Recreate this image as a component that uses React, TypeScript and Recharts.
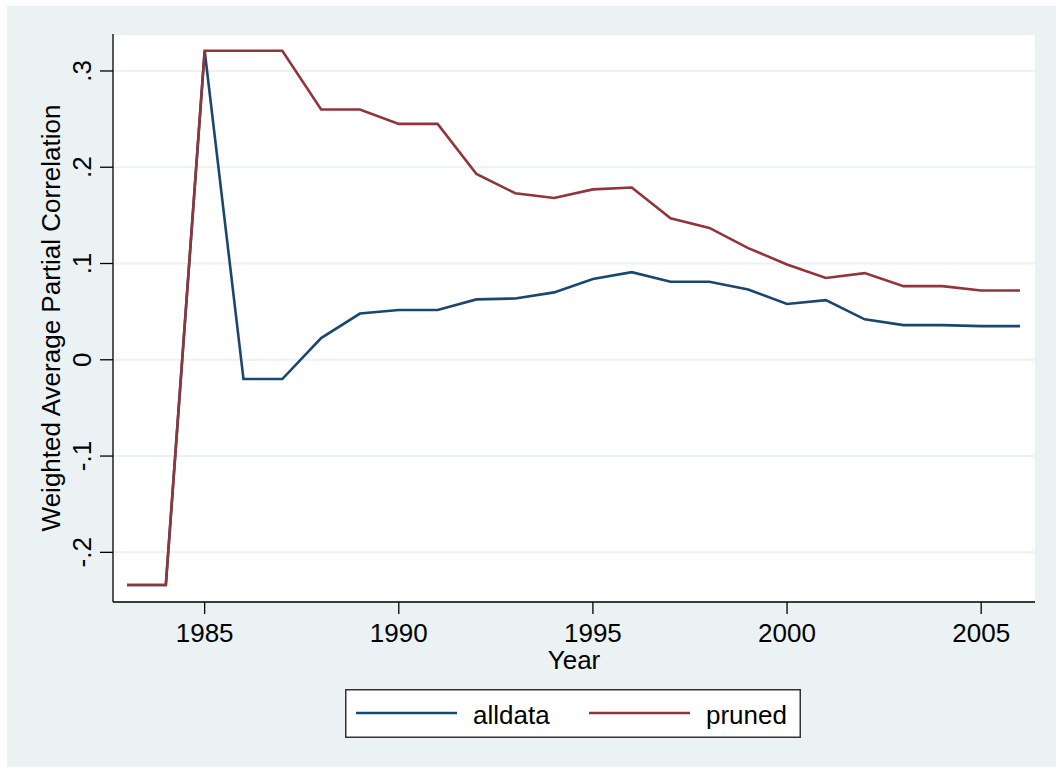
import React from "react";
import { LineChart, Line, XAxis, YAxis, CartesianGrid, Legend, Label } from "recharts";

const years = [
  1983, 1984, 1985, 1986, 1987, 1988, 1989, 1990, 1991, 1992, 1993, 1994,
  1995, 1996, 1997, 1998, 1999, 2000, 2001, 2002, 2003, 2004, 2005, 2006,
];
const alldata = [
  -0.234, -0.234, 0.321, -0.02, -0.02, 0.0225, 0.048, 0.0517, 0.0517, 0.0627,
  0.0637, 0.07, 0.084, 0.091, 0.081, 0.081, 0.073, 0.058, 0.062, 0.042, 0.036,
  0.036, 0.035, 0.035,
];
const pruned = [
  -0.234, -0.234, 0.321, 0.321, 0.321, 0.26, 0.26, 0.245, 0.245, 0.193, 0.173,
  0.168, 0.177, 0.179, 0.147, 0.137, 0.116, 0.099, 0.085, 0.09, 0.0765, 0.0765,
  0.072, 0.072,
];
const xTicks = [1985, 1990, 1995, 2000, 2005];
const yTicks = [-0.2, -0.1, 0, 0.1, 0.2, 0.3];

const NAVY = "#1a476f";
const MAROON = "#90353b";
const BG = "#eaf2f3";
const FONT = "'Liberation Sans', Arial, sans-serif";
const FS = 26;

const data = years.map((year, i) => ({ year, alldata: alldata[i], pruned: pruned[i] }));

const fmtY = (v: number) => {
  if (Math.abs(v) < 1e-9) return "0";
  return v.toFixed(1).replace("0.", ".");
};

const XTick = ({ x, y, payload }: any) => (
  <text x={x} y={y + 28} textAnchor="middle" fill="#000" fontSize={FS} fontFamily={FONT}>
    {payload.value}
  </text>
);

const YTick = ({ x, y, payload }: any) => (
  <text
    x={x - 9}
    y={y}
    textAnchor="middle"
    fill="#000"
    fontSize={FS}
    fontFamily={FONT}
    transform={`rotate(-90, ${x - 9}, ${y})`}
  >
    {fmtY(payload.value)}
  </text>
);

const LegendBox = ({ payload }: any) => {
  const items = payload || [];
  return (
    <svg width={456} height={49} style={{ display: "block" }}>
      <rect x={0.75} y={0.75} width={454.5} height={47.5} fill="#fff" stroke="#333" strokeWidth={1.5} />
      {items.map((entry: any, i: number) => {
        const off = i * 233;
        return (
          <g key={`item-${i}`}>
            <line x1={11 + off} x2={112 + off} y1={24} y2={24} stroke={entry.color} strokeWidth={2.6} />
            <text x={128 + off} y={35} fontSize={FS} fontFamily={FONT} fill="#000">
              {entry.value}
            </text>
          </g>
        );
      })}
    </svg>
  );
};

const App = () => {
  return (
    <div
      style={{
        position: "absolute",
        left: 0,
        top: 0,
        width: 1056,
        height: 769,
        background: "#fff",
        fontFamily: FONT,
      }}
    >
      <div style={{ position: "absolute", left: 7, top: 6, width: 1049, height: 761, background: BG }} />
      <div style={{ position: "absolute", left: 0, top: 0 }}>
        <LineChart
          width={1056}
          height={769}
          data={data}
          margin={{ top: 34, right: 21, left: 43, bottom: 87 }}
        >
          <CartesianGrid vertical={false} stroke={BG} strokeWidth={2} fill="#fff" />
          <XAxis
            dataKey="year"
            type="number"
            domain={[1983, 2006]}
            ticks={xTicks}
            padding={{ left: 14, right: 15 }}
            height={80}
            tickSize={12}
            tickMargin={0}
            tick={<XTick />}
            axisLine={{ stroke: "#000", strokeWidth: 1.3 }}
            tickLine={{ stroke: "#000", strokeWidth: 1.3 }}
          >
            <Label
              content={({ viewBox }: any) => (
                <text
                  x={viewBox.x + viewBox.width / 2}
                  y={viewBox.y + 67}
                  textAnchor="middle"
                  fontSize={FS}
                  fontFamily={FONT}
                  fill="#000"
                >
                  Year
                </text>
              )}
            />
          </XAxis>
          <YAxis
            type="number"
            domain={[-0.2516, 0.3384]}
            ticks={yTicks}
            allowDataOverflow
            width={70}
            tickSize={13}
            tickMargin={0}
            tick={<YTick />}
            axisLine={{ stroke: "#000", strokeWidth: 1.3 }}
            tickLine={{ stroke: "#000", strokeWidth: 1.3 }}
          >
            <Label
              content={({ viewBox }: any) => {
                const lx = viewBox.x + 17;
                const ly = viewBox.y + viewBox.height / 2;
                return (
                  <text
                    x={lx}
                    y={ly}
                    textAnchor="middle"
                    fontSize={FS}
                    fontFamily={FONT}
                    fill="#000"
                    transform={`rotate(-90, ${lx}, ${ly})`}
                  >
                    Weighted Average Partial Correlation
                  </text>
                );
              }}
            />
          </YAxis>
          <Legend
            layout="horizontal"
            verticalAlign="middle"
            align="center"
            content={<LegendBox />}
            wrapperStyle={{ position: "absolute", left: 345, top: 689, width: 456, height: 49 }}
          />
          <Line
            type="linear"
            dataKey="alldata"
            name="alldata"
            stroke={NAVY}
            strokeWidth={2.6}
            dot={false}
            activeDot={false}
            isAnimationActive={false}
          />
          <Line
            type="linear"
            dataKey="pruned"
            name="pruned"
            stroke={MAROON}
            strokeWidth={2.6}
            dot={false}
            activeDot={false}
            isAnimationActive={false}
          />
        </LineChart>
      </div>
    </div>
  );
};

export default App;
